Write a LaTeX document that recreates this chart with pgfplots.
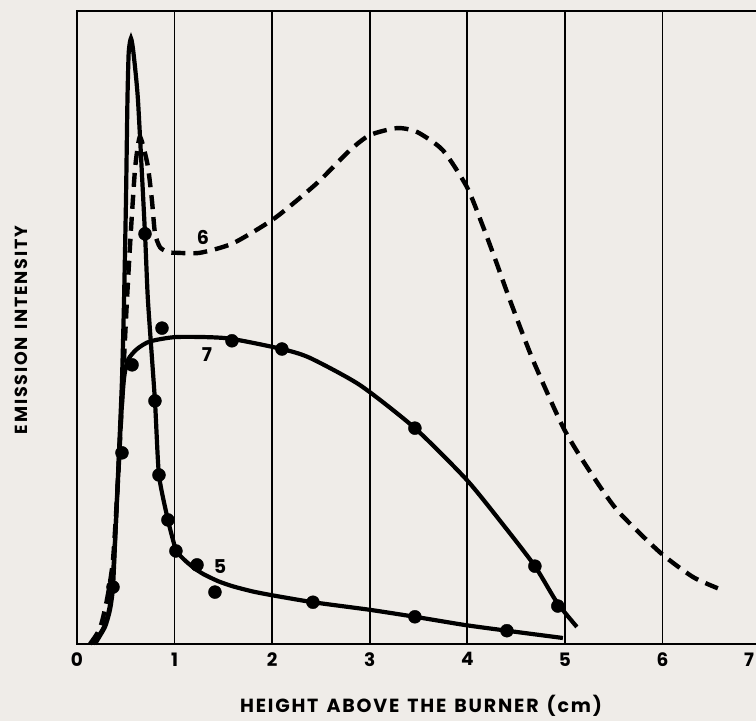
\documentclass[border=0pt]{standalone}
\usepackage{pgfplots}
\pgfplotsset{compat=1.18}
\usepackage{fontspec}
\setmainfont{Poppins}
\definecolor{paper}{RGB}{239,236,232}
% letter-spaced capitals for the axis titles
\newcommand\ls{\kern1.8pt}

\begin{document}
\begin{tikzpicture}
\useasboundingbox (-77pt,-77pt) rectangle (679pt,644pt);
\fill[paper] (-77pt,-77pt) rectangle (679pt,644pt);
\begin{axis}[
  scale only axis,
  width=683pt, height=633pt,
  xmin=0, xmax=7, ymin=0, ymax=100,
  xtick={0,1,2,3,4,5,6},
  extra x ticks={7},
  extra x tick style={xticklabel style={xshift=-11pt}},
  ytick=\empty,
  major tick length=0pt,
  xmajorgrids,
  grid style={black, line width=1.7pt},
  axis line style={black, line width=2.8pt},
  /pgf/number format/assume math mode=true,
  xticklabel style={font=\fontsize{18.5}{20}\selectfont\bfseries, yshift=-5pt},
  clip=false,
]
% curve 5: sharp peak near 0.55 cm, long tail
\addplot[black, line width=4.2pt, smooth, tension=0.35] coordinates {
 (0.184,0) (0.287,2.7) (0.338,5.4) (0.369,9.0) (0.400,19.6) (0.430,30.2)
 (0.461,41.7) (0.482,54.3) (0.502,70.1) (0.517,85.9) (0.530,93.5)
 (0.553,95.7) (0.578,93.5) (0.625,85.9) (0.697,64.8) (0.727,54.3)
 (0.799,38.4) (0.840,26.7) (0.932,19.6) (1.014,14.9) (1.100,13.3)
 (1.200,12.0) (1.300,11.0) (1.450,9.9) (1.600,9.1) (1.800,8.3)
 (2.000,7.7) (2.418,6.6) (3.002,5.4) (3.463,4.3) (3.975,3.0)
 (4.406,2.1) (4.980,0.95)
};
\addplot[black, only marks, mark=*, mark size=6.5pt] coordinates {
 (0.369,9.0) (0.461,30.2) (0.697,64.8) (0.799,38.4) (0.840,26.7)
 (0.932,19.6) (1.014,14.7) (1.230,12.5) (1.414,8.2) (2.418,6.6)
 (3.463,4.3) (4.406,2.1)
};
% curve 7: broad plateau
\addplot[black, line width=4.2pt, smooth, tension=0.4] coordinates {
 (0.164,0) (0.277,2.7) (0.338,6.2) (0.379,13.3) (0.420,25.9) (0.451,35.4)
 (0.482,42.0) (0.523,44.9) (0.615,46.6) (0.748,47.8) (1.025,48.5)
 (1.537,48.3) (2.100,46.6) (2.387,45.2) (2.900,40.9) (3.463,34.1)
 (3.996,25.9) (4.385,18.5) (4.693,12.3) (4.918,6.6) (5.123,2.7)
};
\addplot[black, only marks, mark=*, mark size=6.5pt] coordinates {
 (0.564,44.1) (0.871,49.9) (1.588,47.9) (2.100,46.6) (3.463,34.1)
 (4.693,12.3) (4.928,6.0)
};
% curve 6: dashed, two maxima
\addplot[black, line width=4.4pt, dash pattern=on 14pt off 8pt, smooth, tension=0.4] coordinates {
 (0.133,0) (0.236,2.5) (0.307,7.0) (0.369,13.3) (0.420,25.9) (0.461,38.5)
 (0.512,54.3) (0.553,65.4) (0.594,74.9) (0.625,78.8) (0.645,80.1)
 (0.676,78.8) (0.727,75.4) (0.768,70.1) (0.799,64.9) (0.850,62.7)
 (0.932,61.9) (1.025,61.8) (1.260,61.8) (1.598,63.3) (2.029,67.3)
 (2.459,72.8) (2.797,78.0) (3.002,80.4) (3.279,81.5) (3.484,80.9)
 (3.750,78.0) (3.996,72.2) (4.160,66.0) (4.300,60.2) (4.440,54.2)
 (4.672,44.9) (4.980,34.3) (5.225,28.0) (5.533,21.2) (5.973,14.5)
 (6.311,10.6) (6.568,8.8)
};
\node[font=\fontsize{19}{22}\selectfont\bfseries] at (axis cs:1.29,64.3) {6};
\node[font=\fontsize{19}{22}\selectfont\bfseries] at (axis cs:1.332,45.7) {7};
\node[font=\fontsize{19}{22}\selectfont\bfseries] at (axis cs:1.465,12.3) {5};
\end{axis}
\node[font=\fontsize{19}{22}\selectfont\bfseries] at (344pt,-62pt)
  {H\ls E\ls I\ls G\ls H\ls T\ \ A\ls B\ls O\ls V\ls E\ \ T\ls H\ls E\ \ B\ls U\ls R\ls N\ls E\ls R\ \ (\ls c\ls m\ls )};
\node[font=\fontsize{17.5}{22}\selectfont\bfseries, rotate=90] at (-56pt,314pt)
  {E\ls M\ls I\ls S\ls S\ls I\ls O\ls N\ \ I\ls N\ls T\ls E\ls N\ls S\ls I\ls T\ls Y};
\end{tikzpicture}
\end{document}
